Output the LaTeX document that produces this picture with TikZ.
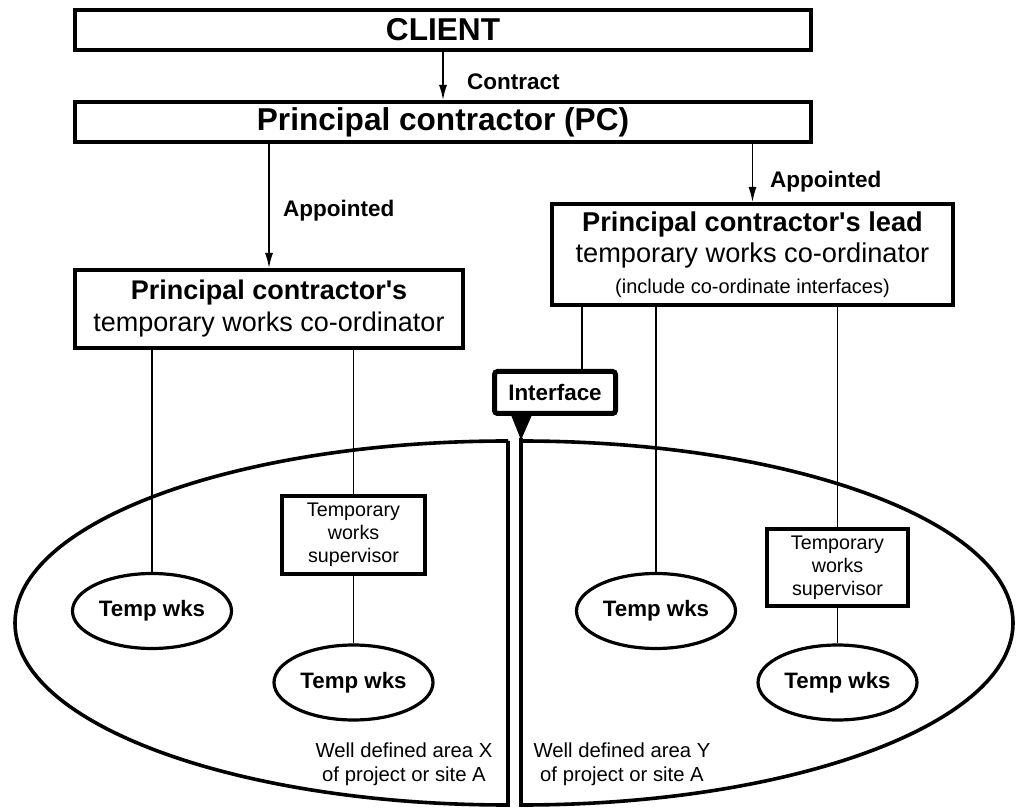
\documentclass[tikz,border=0pt]{standalone}
\usepackage{fontspec}
\defaultfontfeatures[\rmfamily]{}
\setmainfont{Liberation Sans}
\usetikzlibrary{arrows.meta,shapes.geometric}
\begin{document}
\begin{tikzpicture}[x=1pt,y=1pt,
  thickbox/.style={draw, line width=4pt, inner sep=0pt, align=center},
  wks/.style={draw, ellipse, line width=3.2pt, inner sep=0pt,
    minimum width=159pt, minimum height=75pt,
    font=\fontsize{22.3}{26}\selectfont\bfseries},
  link/.style={line width=1.4pt},
  appoint/.style={link, -{Latex[length=15pt,width=8pt]}},
  lbl/.style={anchor=west, inner sep=0pt, font=\fontsize{22.5}{26}\selectfont\bfseries},
  area/.style={line width=3.6pt},
  areatext/.style={align=center, inner sep=0pt, font=\fontsize{20.3}{24}\selectfont},
]
\fill[white] (0,0) rectangle (1016,808);
\useasboundingbox (0,0) rectangle (1016,808);

% management chain
\node[thickbox, minimum width=736pt, minimum height=40pt,
  font=\fontsize{31.6}{36}\selectfont\bfseries] (client) at (443,778) {CLIENT};
\node[thickbox, minimum width=736pt, minimum height=40pt,
  font=\fontsize{31.6}{36}\selectfont\bfseries] (pc) at (443,686) {Principal contractor (PC)};
\node[thickbox, minimum width=388pt, minimum height=78pt,
  font=\fontsize{27}{32}\selectfont] (ptwc) at (269,499)
  {\textbf{Principal contractor's}\\temporary works co-ordinator};
\node[thickbox, minimum width=401pt, minimum height=101pt,
  font=\fontsize{27.2}{31}\selectfont] (lead) at (752.5,553.5)
  {\textbf{Principal contractor's lead}\\temporary works co-ordinator\\
   {\fontsize{20}{24}\selectfont (include co-ordinate interfaces)}};

\node[lbl] (contract) at (467,726) {Contract};
\node[lbl] (apL) at (283,597) {Appointed};
\node[lbl] (apR) at (770,626) {Appointed};

\draw[appoint] (client.south) -- (pc.north);
\draw[appoint] (pc.south -| ptwc.north) -- (ptwc.north);
\draw[appoint] (pc.south -| lead.north) -- (lead.north);

% interface marker
\node[draw, line width=5pt, rounded corners=3pt, inner sep=0pt,
  minimum width=121pt, minimum height=42pt,
  font=\fontsize{22.4}{26}\selectfont\bfseries] (iface) at (555,415.5) {Interface};
\coordinate (ifx) at ([xshift=27pt]iface.north);
\draw[link] (ifx |- lead.south) -- (ifx);
\fill (511,393) -- (532,393) -- (521,368) -- cycle;

% areas X and Y
\draw[area] (508,367) -- (508,3)
  arc[start angle=-90, end angle=-270, x radius=493, y radius=182];
\draw[area] (521,370) -- (521,3)
  arc[start angle=-90, end angle=90, x radius=492, y radius=182];

% area X contents
\node[wks] (tw1) at (152,197) {Temp wks};
\node[thickbox, minimum width=143pt, minimum height=78pt,
  font=\fontsize{19.7}{23}\selectfont] (supL) at (353.5,273) {Temporary\\works\\supervisor};
\node[wks] (tw2) at (353.5,125.5) {Temp wks};
\node[areatext] (areaX) at (404,44) {Well defined area X\\of project or site A};

% area Y contents
\node[wks] (tw3) at (656,197) {Temp wks};
\node[thickbox, minimum width=141pt, minimum height=77pt,
  font=\fontsize{19.7}{23}\selectfont] (supR) at (837.5,240.5) {Temporary\\works\\supervisor};
\node[wks] (tw4) at (837.5,125.5) {Temp wks};
\node[areatext] (areaY) at (622,44) {Well defined area Y\\of project or site A};

% reporting lines
\draw[link] (ptwc.south -| tw1.north) -- (tw1.north);
\draw[link] (ptwc.south -| supL.north) -- (supL.north);
\draw[link] (supL.south) -- (tw2.north);
\draw[link] (lead.south -| tw3.north) -- (tw3.north);
\draw[link] (lead.south -| supR.north) -- (supR.north);
\draw[link] (supR.south) -- (tw4.north);
\end{tikzpicture}
\end{document}
